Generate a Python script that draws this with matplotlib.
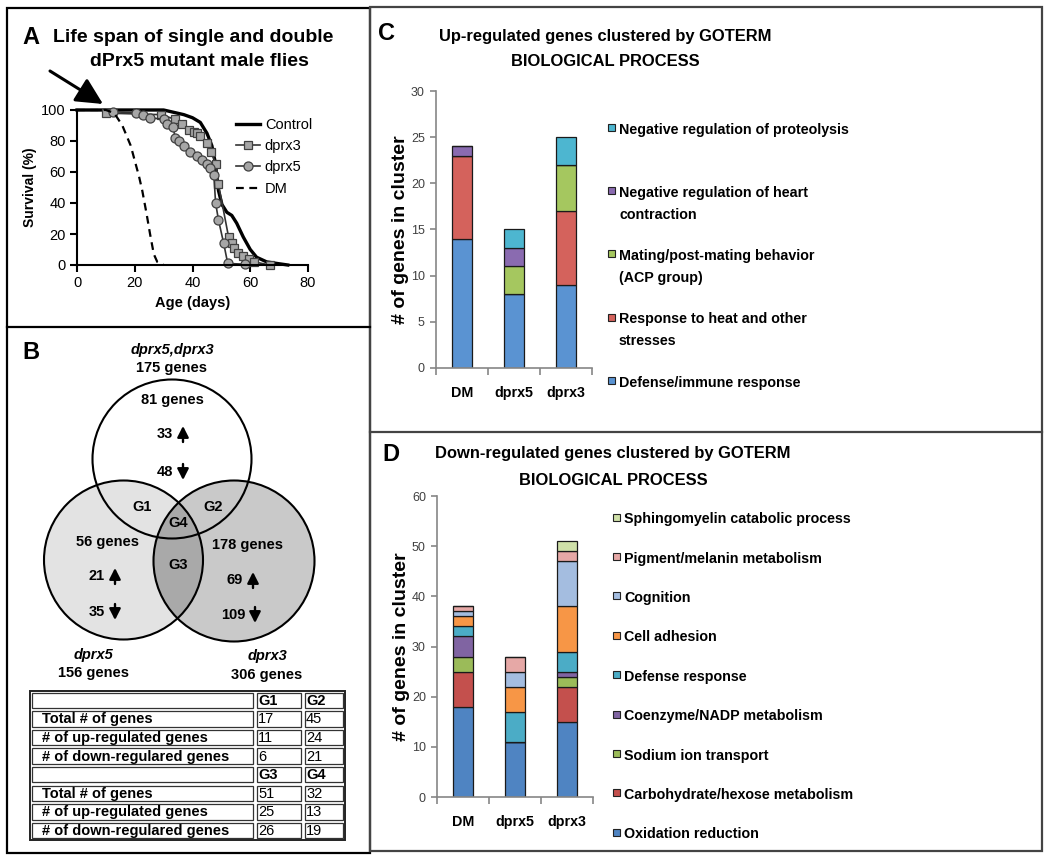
import numpy as np
import matplotlib.pyplot as plt
from matplotlib.patches import Circle, Rectangle
from matplotlib import font_manager
from matplotlib.font_manager import FontProperties

plt.rcParams['font.family'] = ['Liberation Sans', 'DejaVu Sans']

# narrow font for the Excel panels, if it is there
try:
    font_manager.findfont(FontProperties(family='Liberation Sans Narrow'), fallback_to_default=False)
    NARROW, NS = ['Liberation Sans Narrow', 'DejaVu Sans'], 1.0
except ValueError:
    NARROW, NS = ['Liberation Sans', 'DejaVu Sans'], 0.82

W, H = 1050, 855

# ---- panel A: survival curves
control_age = [0, 30, 37, 40, 42.7, 45, 46.7, 47.9, 49, 50.2, 51.9, 53.6, 55.3, 57.6, 60, 62.2, 65.7, 70, 73]
control_surv = [100, 100, 97, 95, 92, 85, 77, 66, 48, 39, 34, 32, 27, 18, 10, 5, 2, 0.8, 0]
dprx3_age = [10, 29, 34, 36.4, 38.7, 40.4, 41.6, 42.7, 45, 46.4, 48.2, 49, 52.5, 53.6, 54.5, 55.9, 57.6, 59.4, 61.3, 66.8]
dprx3_surv = [98, 97, 94, 91, 87, 86, 85, 83, 79, 73, 65, 52, 18, 14, 11, 8, 6, 4, 2, 0]
dprx5_age = [12.3, 20.3, 23, 25.3, 30, 31, 33.3, 34, 35.2, 37, 39.3, 41.6, 43.3, 45, 46.2, 47.4, 48, 49, 50.8, 52.2, 58.2]
dprx5_surv = [99, 98, 97, 95, 94, 91, 89, 82, 80, 77, 73, 70, 68, 65, 62.5, 58, 40, 29, 14, 1, 0.5]
dm_age = [0, 10, 12.9, 15.7, 18.6, 21.5, 22.6, 24.1, 25.3, 26.6, 27.8, 30]
dm_surv = [100, 100, 98, 90, 77, 57, 48, 33, 20, 7, 2, 0]

# ---- panel B: venn counts and table
venn_totals = {'top': '81 genes', 'left': '56 genes', 'right': '178 genes'}
venn_up = {'top': 33, 'left': 21, 'right': 69}
venn_down = {'top': 48, 'left': 35, 'right': 109}
group_names = ['G1', 'G2', 'G3', 'G4']
g_total = [17, 45, 51, 32]
g_up = [11, 24, 25, 13]
g_down = [6, 21, 26, 19]
row_names = ['Total # of genes', '# of up-regulated genes', '# of down-regulared genes']

# ---- panel C: up-regulated clusters
strains = ['DM', 'dprx5', 'dprx3']
c_labels = ['Defense/immune response', 'Response to heat and other\nstresses',
            'Mating/post-mating behavior\n(ACP group)', 'Negative regulation of heart\ncontraction',
            'Negative regulation of proteolysis']
c_defense = [14, 8, 9]
c_heat = [9, 0, 8]
c_mating = [0, 3, 5]
c_heart = [1, 2, 0]
c_proteolysis = [0, 2, 3]
c_colors = ['#5a93d2', '#d4625c', '#a5c75f', '#8a6bb0', '#4db6d0']

# ---- panel D: down-regulated clusters
d_labels = ['Oxidation reduction', 'Carbohydrate/hexose metabolism', 'Sodium ion transport',
            'Coenzyme/NADP metabolism', 'Defense response', 'Cell adhesion', 'Cognition',
            'Pigment/melanin metabolism', 'Sphingomyelin catabolic process']
d_oxidation = [18, 11, 15]
d_carbohydrate = [7, 0, 7]
d_sodium = [3, 0, 2]
d_coenzyme = [4, 0, 1]
d_defense = [2, 6, 4]
d_adhesion = [2, 5, 9]
d_cognition = [1, 3, 9]
d_pigment = [1, 3, 2]
d_sphingo = [0, 0, 2]
d_colors = ['#4f84c2', '#c4504d', '#9bbb59', '#8064a2', '#4bacc6', '#f79646', '#a4bde0', '#e6a8a6', '#cfe0a8']


def rect(l, t, r, b):
    return [l / W, 1 - b / H, (r - l) / W, (b - t) / H]


fig = plt.figure(figsize=(W / 100, H / 100), dpi=100)
ov = fig.add_axes([0, 0, 1, 1], zorder=0)
ov.set_xlim(0, W)
ov.set_ylim(H, 0)
ov.axis('off')

# panel frames
ov.add_patch(Rectangle((7, 8), 363, 845, fill=False, lw=1.6, ec='black'))
ov.plot([7, 370], [327, 327], color='black', lw=1.6)
ov.add_patch(Rectangle((370, 7), 672, 844, fill=False, lw=1.6, ec='#444444'))
ov.plot([370, 1042], [432, 432], color='#444444', lw=1.6)

# ================= A
ov.text(22, 37, 'A', fontsize=17, fontweight='bold', va='center')
ov.text(53, 37, 'Life span of single and double', fontsize=14, fontweight='bold', va='center')
ov.text(199, 62, 'dPrx5 mutant male flies', fontsize=14, fontweight='bold', va='center', ha='center')
ov.annotate('', xy=(103, 104), xytext=(50, 71),
            arrowprops=dict(arrowstyle='-|>,head_length=0.9,head_width=0.45', lw=2.2, color='black',
                            mutation_scale=18, shrinkA=0, shrinkB=0))

axA = fig.add_axes(rect(77, 110, 308, 265), zorder=1)
axA.set_facecolor('none')
axA.plot(control_age, control_surv, color='black', lw=2.4, label='Control', clip_on=False)
axA.plot(dprx3_age, dprx3_surv, color='#333333', lw=1.2, marker='s', ms=6, mfc='#a6a6a6', mec='#404040',
         mew=0.9, label='dprx3', clip_on=False)
axA.plot(dprx5_age, dprx5_surv, color='#333333', lw=1.2, marker='o', ms=6.5, mfc='#a6a6a6', mec='#404040',
         mew=0.9, label='dprx5', clip_on=False)
axA.plot(dm_age, dm_surv, color='black', lw=1.6, dashes=(3.5, 2.5), label='DM', clip_on=False)
axA.set_xlim(0, 80)
axA.set_ylim(0, 100)
axA.set_xticks(np.arange(0, 81, 20))
axA.set_yticks(np.arange(0, 101, 20))
for s in ['top', 'right']:
    axA.spines[s].set_visible(False)
for s in ['left', 'bottom']:
    axA.spines[s].set_linewidth(1.5)
axA.tick_params(direction='out', length=5, width=1.5, labelsize=10.5, pad=3)
axA.set_ylabel('Survival (%)', fontsize=10, fontweight='bold')
axA.yaxis.set_label_coords(-0.175, 0.5)
axA.set_xlabel('Age (days)', fontsize=10.5, fontweight='bold')
axA.xaxis.set_label_coords(0.5, -0.2)
axA.legend(loc='upper left', bbox_to_anchor=(0.69, 0.95), frameon=False, fontsize=10.5,
           handlelength=1.6, handletextpad=0.35, labelspacing=0.5, borderpad=0, borderaxespad=0)

# ================= B
ov.text(22, 352, 'B', fontsize=17, fontweight='bold', va='center')
ov.text(172, 350, 'dprx5,dprx3', fontsize=10.5, fontweight='bold', style='italic', ha='center', va='center')
ov.text(172, 368, '175 genes', fontsize=10.5, fontweight='bold', ha='center', va='center')

c_top = Circle((172, 459), 79.5, fc='none', ec='black', lw=1.5)
c_left = Circle((123.5, 560), 79.5, fc='#e3e3e3', ec='none')
c_right = Circle((234, 561), 80.5, fc='#c9c9c9', ec='none')
ov.add_patch(c_left)
ov.add_patch(c_right)
lens = Circle((234, 561), 80.5, fc='#a9a9a9', ec='none')
ov.add_patch(lens)
lens.set_clip_path(c_left)
for c in [(123.5, 560, 79.5), (234, 561, 80.5)]:
    ov.add_patch(Circle(c[:2], c[2], fc='none', ec='black', lw=1.5))
ov.add_patch(c_top)

venn_pos = {'top': [(172, 400), (172, 434), (172, 472)],
            'left': [(108, 542), (104, 576), (104, 612)],
            'right': [(248, 545), (242, 580), (244, 615)]}
arrow_kw = dict(arrowstyle='-|>,head_length=0.55,head_width=0.28', lw=1.7, color='black',
                mutation_scale=12, shrinkA=0, shrinkB=0)
for k in venn_totals:
    (xt, yt), (xu, yu), (xd, yd) = venn_pos[k]
    ov.text(xt, yt, venn_totals[k], fontsize=10.5, fontweight='bold', ha='center', va='center')
    ov.text(xu + 1, yu, str(venn_up[k]), fontsize=10.5, fontweight='bold', ha='right', va='center')
    ov.text(xd + 1, yd, str(venn_down[k]), fontsize=10.5, fontweight='bold', ha='right', va='center')
    ov.annotate('', xy=(xu + 11, yu - 8), xytext=(xu + 11, yu + 8), arrowprops=arrow_kw)
    ov.annotate('', xy=(xd + 11, yd + 8), xytext=(xd + 11, yd - 8), arrowprops=arrow_kw)
for g, (x, y) in zip(group_names, [(142, 507), (213, 507), (178, 565), (178, 523)]):
    ov.text(x, y, g, fontsize=10.5, fontweight='bold', ha='center', va='center')

ov.text(93, 655, 'dprx5', fontsize=10.5, fontweight='bold', style='italic', ha='center', va='center')
ov.text(93, 673, '156 genes', fontsize=10.5, fontweight='bold', ha='center', va='center')
ov.text(267, 656, 'dprx3', fontsize=10.5, fontweight='bold', style='italic', ha='center', va='center')
ov.text(267, 675, '306 genes', fontsize=10.5, fontweight='bold', ha='center', va='center')

# table
col_x = [30, 255, 303, 345]
row_h = 18.6
tab_top = 691
rows = []
for b in range(2):
    rows.append(['', group_names[2 * b], group_names[2 * b + 1]])
    for name, vals in zip(row_names, [g_total, g_up, g_down]):
        rows.append([name, str(vals[2 * b]), str(vals[2 * b + 1])])
ov.add_patch(Rectangle((col_x[0], tab_top), col_x[-1] - col_x[0], row_h * len(rows), fill=False,
                       lw=1.4, ec='#222222'))
for i, row in enumerate(rows):
    y0 = tab_top + i * row_h
    header = row[0] == ''
    for j, cell in enumerate(row):
        x0, x1 = col_x[j], col_x[j + 1]
        ov.add_patch(Rectangle((x0 + 1.6, y0 + 1.6), x1 - x0 - 3.2, row_h - 3.2, fill=False,
                               lw=0.9, ec='#333333'))
        if j == 0:
            ov.text(x0 + 12, y0 + row_h / 2 + 0.5, cell, fontsize=10.5, fontweight='bold', va='center')
        else:
            ov.text(x0 + 3, y0 + row_h / 2 + 0.5, cell, fontsize=10.5,
                    fontweight='bold' if header else 'normal', va='center')


# ================= C and D
def stacked(ax, series, colors, ymax, ystep):
    x = np.arange(len(strains))
    bottom = np.zeros(len(strains))
    for vals, col in zip(series, colors):
        ax.bar(x, vals, 0.4, bottom=bottom, color=col, edgecolor='#1a1a1a', linewidth=0.9)
        bottom += np.array(vals)
    ax.set_xlim(-0.5, 2.5)
    ax.set_ylim(0, ymax)
    ax.set_yticks(np.arange(0, ymax + 1, ystep))
    ax.set_xticks(x)
    ax.set_xticklabels(strains, fontsize=12.5 * NS, fontweight='bold', family=NARROW)
    ax.set_xticks([-0.5, 0.5, 1.5, 2.5], minor=True)
    ax.tick_params(axis='x', which='major', length=0, pad=13)
    ax.tick_params(axis='x', which='minor', length=5, direction='out', color='#868686', width=1.2)
    ax.tick_params(axis='y', length=4, direction='out', color='#868686', width=1.2, pad=4,
                   labelcolor='#404040')
    for lab in ax.get_yticklabels():
        lab.set_fontfamily(NARROW)
        lab.set_fontsize(11 * NS)
    for s in ['top', 'right']:
        ax.spines[s].set_visible(False)
    for s in ['left', 'bottom']:
        ax.spines[s].set_color('#868686')
        ax.spines[s].set_linewidth(1.2)
    ax.set_facecolor('none')
    ax.set_ylabel('# of genes in cluster', fontsize=14, fontweight='bold')
    ax.yaxis.set_label_coords(-0.175, 0.5)


def legend_column(labels, colors, x_sq, x_txt, y0, pitch):
    fs = 12.5 * NS
    fpx = 12.5 * 100 / 72
    for i, (lab, col) in enumerate(zip(labels[::-1], colors[::-1])):
        y = y0 + i * pitch
        ov.add_patch(Rectangle((x_sq - 3.5, y - 3.5), 7, 7, fc=col, ec='#222222', lw=0.8))
        for k, line in enumerate(lab.split('\n')):
            ov.text(x_txt, y + 0.36 * fpx + k * 22, line, fontsize=fs, fontweight='bold',
                    family=NARROW, va='baseline')


ov.text(378, 34, 'C', fontsize=17, fontweight='bold', va='center')
ov.text(605, 36, 'Up-regulated genes clustered by GOTERM', fontsize=14.5 * NS, fontweight='bold',
        family=NARROW, ha='center', va='center')
ov.text(605, 62, 'BIOLOGICAL PROCESS', fontsize=14.5 * NS, fontweight='bold', family=NARROW,
        ha='center', va='center')
axC = fig.add_axes(rect(436, 91, 592, 368), zorder=1)
stacked(axC, [c_defense, c_heat, c_mating, c_heart, c_proteolysis], c_colors, 30, 5)
legend_column(c_labels, c_colors, 611, 619, 127.5, 63.2)

ov.text(382, 454, 'D', fontsize=17, fontweight='bold', va='center')
ov.text(613, 453, 'Down-regulated genes clustered by GOTERM', fontsize=14.5 * NS, fontweight='bold',
        family=NARROW, ha='center', va='center')
ov.text(613, 480, 'BIOLOGICAL PROCESS', fontsize=14.5 * NS, fontweight='bold', family=NARROW,
        ha='center', va='center')
axD = fig.add_axes(rect(437, 496, 593, 797), zorder=1)
stacked(axD, [d_oxidation, d_carbohydrate, d_sodium, d_coenzyme, d_defense, d_adhesion,
              d_cognition, d_pigment, d_sphingo], d_colors, 60, 10)
legend_column(d_labels, d_colors, 616, 624, 517, 39.4)

fig.savefig('out.png', dpi=100)
